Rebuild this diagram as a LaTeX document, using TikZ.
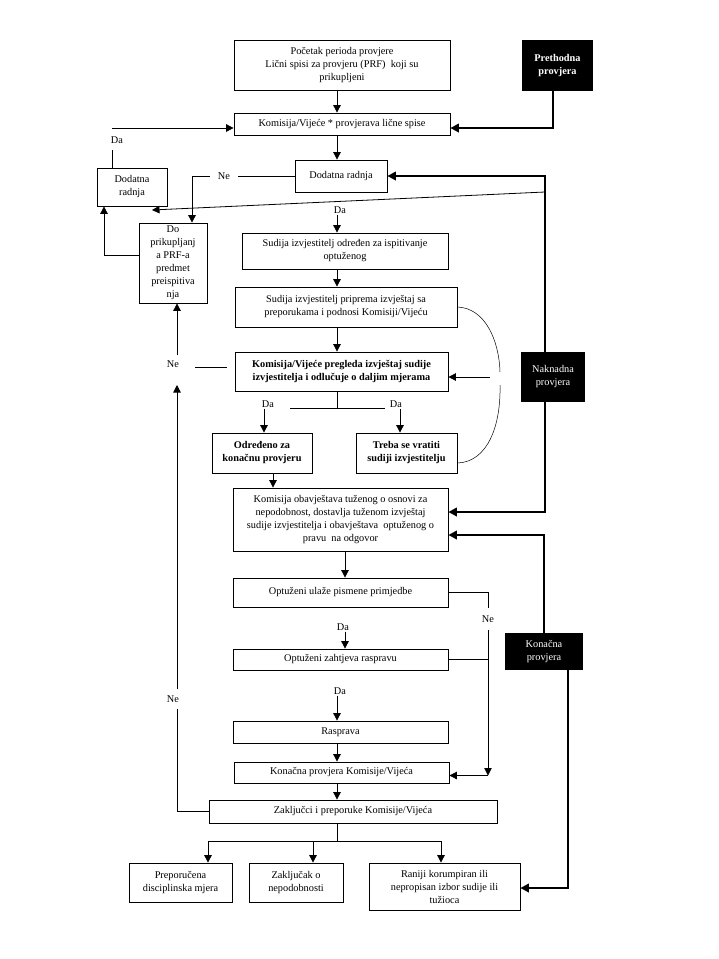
\documentclass[tikz,border=0pt]{standalone}
\usepackage{fontspec}
\setmainfont{Liberation Serif}
\usepackage{tikz}
\usetikzlibrary{arrows.meta, calc}

\newcommand{\tekst}{\fontsize{10.3pt}{13pt}\selectfont}

\begin{document}
\begin{tikzpicture}[
    x=1pt, y=-1pt,
    box/.style={rectangle, draw=black, line width=0.8pt, fill=white,
                inner sep=1pt, font=\tekst, align=center},
    crni/.style={rectangle, fill=black, text=white, inner sep=1pt,
                 font=\tekst, align=center},
    arr/.style={-{Triangle[length=7.5pt, width=7.5pt]}, line width=0.8pt},
    tarr/.style={-{Triangle[length=8.5pt, width=8.5pt]}, line width=2.2pt},
    veza/.style={line width=0.8pt},
    tanka/.style={line width=0.5pt},
    lbl/.style={font=\tekst, inner sep=1pt},
]
\useasboundingbox (0,0) rectangle (719,959);

% ── Ose ──
\coordinate (os) at (337,0);
\coordinate (os2) at (345,0);
\coordinate (nakX) at (545,0);
\coordinate (desnoX) at (488,0);
\coordinate (lijevoX) at (177,0);

% ── Početak ──
\node[box, minimum width=216, minimum height=50] (pocetak) at (342,65) {Početak perioda provjere\\Lični spisi za provjeru (PRF)\ \ koji su\\prikupljeni};
\node[crni, minimum width=71, minimum height=51, font=\tekst\bfseries] (prethodna) at (557.5,65.5) {Prethodna\\provjera};
\node[box, minimum width=216, minimum height=22] (kontrola) at (342,124) {Komisija/Vijeće * provjerava lične spise};
\node[box, minimum width=92, minimum height=32] (dodatnaB) at (341,176) {Dodatna radnja};
\node[box, minimum width=70, minimum height=38] (dodatnaA) at (132,187) {Dodatna\\radnja};
\node[box, minimum width=68, minimum height=80] (prikupljanje) at (173,263) {Do\\prikupljanj\\a PRF-a\\predmet\\preispitiva\\nja};

% ── Sudija izvjestitelj ──
\node[box, minimum width=206, minimum height=36] (sudijaA) at (345,251) {Sudija izvjestitelj određen za ispitivanje\\optuženog};
\node[box, minimum width=222, minimum height=40] (sudijaB) at (346,307) {Sudija izvjestitelj priprema izvještaj sa\\preporukama i podnosi Komisiji/Vijeću};
\node[box, minimum width=213, minimum height=39, font=\tekst\bfseries] (pregled) at (341.5,371.5) {Komisija/Vijeće pregleda izvještaj sudije\\izvjestitelja i odlučuje o daljim mjerama};
\node[box, minimum width=100, minimum height=40, font=\tekst\bfseries] (odredjeno) at (262,453) {Određeno za\\konačnu provjeru};
\node[box, minimum width=101, minimum height=40, font=\tekst\bfseries] (vratiti) at (406.5,453) {Treba se vratiti\\sudiji izvjestitelju};
\node[crni, minimum width=64, minimum height=50] (naknadna) at (553,377) {Naknadna\\provjera};

% ── Postupak s optuženim ──
\node[box, minimum width=215, minimum height=63] (obavijest) at (340.5,519.5) {Komisija obavještava tuženog o osnovi za\\nepodobnost, dostavlja tuženom izvještaj\\sudije izvjestitelja i obavještava\ \ optuženog o\\pravu\ \ na odgovor};
\node[box, minimum width=215, minimum height=29] (primjedbe) at (340.5,592.5) {Optuženi ulaže pismene primjedbe};
\node[crni, minimum width=78, minimum height=37] (konacna) at (544,651.5) {Konačna\\provjera};
\node[box, minimum width=215, minimum height=21] (zahtjev) at (340.5,659.5) {Optuženi zahtjeva raspravu};
\node[box, minimum width=215, minimum height=22] (rasprava) at (340.5,732) {Rasprava};
\node[box, minimum width=215, minimum height=21] (konprov) at (341.5,772.5) {Konačna provjera Komisije/Vijeća};
\node[box, minimum width=288, minimum height=23] (zakljucci) at (353,811.5) {Zaključci i preporuke Komisije/Vijeća};

% ── Ishodi ──
\node[box, minimum width=103, minimum height=39] (mjera) at (180.5,882.5) {Preporučena\\disciplinska mjera};
\node[box, minimum width=94, minimum height=39] (nepodobnost) at (296,882.5) {Zaključak o\\nepodobnosti};
\node[box, minimum width=151, minimum height=47] (izbor) at (444.5,886.5) {Raniji korumpiran ili\\nepropisan izbor sudije ili\\tužioca};

% ── Oznake ──
\node[lbl] (daA) at (117,140) {Da};
\node[lbl, inner xsep=8pt] (neA) at (224,176) {Ne};
\node[lbl] (daB) at (340,210) {Da};
\node[lbl, inner ysep=5pt] (neB) at (173,364) {Ne};
\node[lbl] (daC) at (268,404) {Da};
\node[lbl] (daD) at (396,404) {Da};
\node[lbl, inner ysep=7pt] (neC) at (488,619) {Ne};
\node[lbl] (daE) at (343,627) {Da};
\node[lbl] (daF) at (340,691) {Da};
\node[lbl, inner ysep=6pt] (neD) at (173,699) {Ne};

% ── Veze: vrh ──
\draw[arr] (pocetak.south -| os) -- (kontrola.north -| os);
\draw[tarr] (prethodna.south -| 553,0) |- ($(kontrola.east)+(0,4)$);
\draw[veza] (dodatnaA.north -| 112,0) -- ++(0,-18);
\coordinate (daKut) at (112,128);
\draw[arr] (daKut) -- (daKut -| kontrola.west);
\draw[arr] (kontrola.south -| os) -- (dodatnaB.north -| os);
\draw[veza] (dodatnaB.west) -- (neA.east);
\draw[arr] (neA.west) -| (prikupljanje.north -| 192,0);
\draw[arr] (daB.south -| os) -- (sudijaA.north -| os);
\coordinate (kosD) at (545,192);
\coordinate (kosL) at (152,210);
\draw[arr] (kosD) -- (kosL);
\draw[arr] (prikupljanje.west |- 0,255) -| (dodatnaA.south -| 104,0);

% ── Veze: naknadna provjera ──
\draw[tarr] (naknadna.north -| nakX) |- (dodatnaB.east);
\draw[tarr] (naknadna.south -| nakX) |- ($(obavijest.east)+(0,-7.5)$);
\draw[arr] (sudijaA.south -| os) -- (sudijaB.north -| os);
\draw[arr] (sudijaB.south -| os) -- (pregled.north -| os);
\draw[tanka] (sudijaB.east) .. controls (485,308) and (499,340) .. (500,372);
\draw[tanka] (500,385) .. controls (501,425) and (488,462) .. ($(vratiti.east)+(0,10)$);
\coordinate (povrat) at (490,377);
\draw[arr] (povrat) -- (povrat -| pregled.east);
\draw[veza] ($(pregled.west)+(-8,-4)$) -- ++(-32,0);
\draw[arr] (neB.north -| lijevoX) -- (prikupljanje.south -| lijevoX);

% ── Veze: odluka ──
\coordinate (racva) at (337,408);
\draw[veza] (pregled.south -| os) -- (racva);
\draw[veza] (racva) -- ++(-47,0);
\draw[veza] (racva) -- ++(48,0);
\draw[arr] (daC.south -| 264,0) -- (odredjeno.north -| 264,0);
\draw[arr] (daD.south -| 400,0) -- (vratiti.north -| 400,0);
\draw[arr] (odredjeno.south -| 273,0) -- (obavijest.north -| 273,0);

% ── Veze: optuženi ──
\draw[arr] (obavijest.south -| os2) -- (primjedbe.north -| os2);
\draw[arr] (daE.south -| os2) -- (zahtjev.north -| os2);
\draw[arr] (daF.south -| os) -- (rasprava.north -| os);
\draw[arr] (rasprava.south -| os) -- (konprov.north -| os);
\draw[arr] (konprov.south -| os) -- (zakljucci.north -| os);
\draw[veza] (primjedbe.east) -| (neC.north);
\draw[arr] (neC.south) -- ($(konprov.east -| desnoX)+(0,3)$);
\draw[veza] (zahtjev.east) -- (zahtjev.east -| desnoX);
\draw[arr] ($(konprov.east -| desnoX)+(0,3)$) -- ($(konprov.east)+(0,3)$);

% ── Veze: konačna provjera ──
\draw[tarr] (konacna.north) |- ($(obavijest.east)+(0,15.5)$);
\draw[tarr] (konacna.south -| 568,0) |- ($(izbor.east)+(0,1.5)$);

% ── Veze: zaključci ──
\draw[veza] (zakljucci.west) -| (neD.south -| lijevoX);
\coordinate (gore) at (177,385);
\draw[arr] (neD.north -| lijevoX) -- (gore);
\coordinate (grana) at (337,841);
\draw[veza] (zakljucci.south -| os) -- (grana);
\draw[arr] (grana) -| (mjera.north -| 208,0);
\draw[arr] (grana) -| (nepodobnost.north -| 313,0);
\draw[arr] (grana) -| (izbor.north -| 441,0);

\end{tikzpicture}
\end{document}
